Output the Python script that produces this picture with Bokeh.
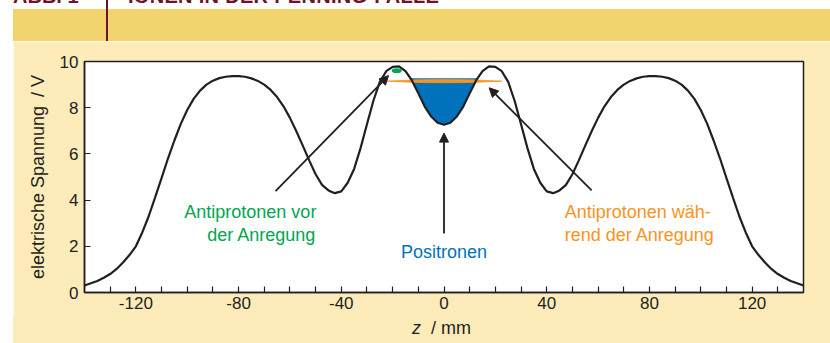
from bokeh.plotting import figure
from bokeh.models import Range1d, FixedTicker, Arrow, NormalHead, Div
from bokeh.layouts import column
from bokeh.core.properties import value
from bokeh.embed import file_html
from bokeh.resources import INLINE

# ---- data ----
z_mm = [-140, -137.5, -135, -132.5, -130, -127.5, -125, -122.5, -120, -117.5, -115, -112.5,
        -110, -107.5, -105, -102.5, -100, -97.5, -95, -92.5, -90, -87.5, -85, -82.5, -80,
        -77.5, -75, -72.5, -70, -67.5, -65, -62.5, -60, -57.5, -55, -52.5, -50, -47.5, -45,
        -42.5, -40, -37.5, -35, -32.5, -30, -27.5, -25, -22.5, -20, -17.5, -15, -12.5, -10,
        -7.5, -5, -2.5, 0,
        2.5, 5, 7.5, 10, 12.5, 15, 17.5, 20, 22.5, 25, 27.5, 30, 32.5, 35, 37.5, 40, 42.5,
        45, 47.5, 50, 52.5, 55, 57.5, 60, 62.5, 65, 67.5, 70, 72.5, 75, 77.5, 80, 82.5, 85,
        87.5, 90, 92.5, 95, 97.5, 100, 102.5, 105, 107.5, 110, 112.5, 115, 117.5, 120,
        122.5, 125, 127.5, 130, 132.5, 135, 137.5, 140]
voltage = [0.30, 0.40, 0.50, 0.64, 0.80, 1.02, 1.30, 1.62, 2.00, 2.60, 3.30, 4.12,
           4.95, 5.80, 6.58, 7.30, 7.90, 8.38, 8.74, 9.00, 9.17, 9.28, 9.34, 9.37, 9.37,
           9.34, 9.27, 9.16, 9.00, 8.77, 8.46, 8.06, 7.56, 6.98, 6.36, 5.72, 5.12, 4.66, 4.42,
           4.30, 4.38, 4.75, 5.35, 6.25, 7.28, 8.30, 9.12, 9.58, 9.77, 9.79, 9.58, 9.18, 8.62,
           8.05, 7.62, 7.35, 7.26,
           7.35, 7.62, 8.05, 8.62, 9.18, 9.58, 9.79, 9.77, 9.58, 9.12, 8.30, 7.28, 6.25, 5.35, 4.75, 4.38, 4.30,
           4.42, 4.66, 5.12, 5.72, 6.36, 6.98, 7.56, 8.06, 8.46, 8.77, 9.00, 9.16, 9.27, 9.34, 9.37, 9.37, 9.34,
           9.28, 9.17, 9.00, 8.74, 8.38, 7.90, 7.30, 6.58, 5.80, 4.95, 4.12, 3.30, 2.60, 2.00,
           1.62, 1.30, 1.02, 0.80, 0.64, 0.50, 0.40, 0.30]

# positron cloud (filled well)
positron_z = [-13.2, -12.5, -10, -7.5, -5, -2.5, 0, 2.5, 5, 7.5, 10, 12.5, 13.2]
positron_bottom = [9.27, 9.18, 8.62, 8.05, 7.62, 7.35, 7.26, 7.35, 7.62, 8.05, 8.62, 9.18, 9.27]
positron_top = [9.27] * len(positron_z)

# antiprotons during excitation (thin orange lens)
excited_z = [-22.0, -10, 0, 10, 22.5, 10, 0, -10]
excited_v = [9.15, 9.21, 9.22, 9.21, 9.15, 9.09, 9.08, 9.09]

# antiprotons before excitation (green blob)
cold_z = [-18.4]
cold_v = [9.60]

# arrows: start (z, V) -> end (z, V)
arrow_z0 = [-65.6, 0.0, 57.5]
arrow_v0 = [4.39, 2.55, 4.42]
arrow_z1 = [-21.6, 0.0, 17.6]
arrow_v1 = [9.39, 6.90, 8.86]

x_ticks = [-120, -80, -40, 0, 40, 80, 120]
x_tick_labels = ["-120", "-80", "-40", "0", "40", "80", "120"]
x_minor = [-130, -110, -100, -90, -70, -60, -50, -30, -20, -10, 10, 20, 30, 50, 60, 70, 90, 100, 110, 130]
y_ticks = [0, 2, 4, 6, 8, 10]

# ---- styling ----
PANEL = "#FEEBBA"
BAND = "#F3D36E"
MAROON = "#6B1230"
INK = "#231F20"
GREEN = "#00A651"
BLUE = "#0072BC"
ORANGE = "#F7941D"
FONT = "Liberation Sans"

band = Div(
    text=(f'<div style="position:relative;width:817px;height:41px;overflow:hidden;background:white;">'
          f'<div style="position:absolute;left:0;top:9px;width:817px;height:32px;background:{BAND};"></div>'
          f'<div style="position:absolute;left:93px;top:0px;width:2px;height:41px;background:{MAROON};"></div>'
          f'<div style="position:absolute;left:0px;top:-14px;font:bold 20px \'{FONT}\';line-height:20px;'
          f'color:{MAROON};white-space:nowrap;">ABB. 1</div>'
          f'<div style="position:absolute;left:115px;top:-14px;font:bold 20px \'{FONT}\';line-height:20px;'
          f'color:{MAROON};white-space:nowrap;letter-spacing:0.3px;">IONEN IN DER PENNING-FALLE</div>'
          '</div>'),
    width=817, height=41, margin=(0, 0, 0, 13),
)

p = figure(width=817, height=276, x_range=Range1d(-140, 140), y_range=Range1d(0, 10),
           output_backend="svg", toolbar_location=None,
           min_border_left=71, min_border_right=27, min_border_top=20, min_border_bottom=25,
           background_fill_color="white", border_fill_color=PANEL,
           outline_line_color=INK, outline_line_width=1.5, margin=(0, 0, 0, 13))
p.grid.visible = False

# axes
xa = p.xaxis[0]
xa.ticker = FixedTicker(ticks=x_ticks, minor_ticks=x_minor)
xa.major_label_overrides = dict(zip(x_ticks, x_tick_labels))
ya = p.yaxis[0]
ya.ticker = FixedTicker(ticks=y_ticks, minor_ticks=[])
for ax in (xa, ya):
    ax.axis_line_color = INK
    ax.axis_line_width = 1.5
    ax.major_tick_in = 6
    ax.major_tick_out = 0
    ax.minor_tick_in = 6
    ax.minor_tick_out = 0
    ax.major_tick_line_color = INK
    ax.minor_tick_line_color = INK
    ax.major_tick_line_width = 1.2
    ax.minor_tick_line_width = 1.2
    ax.major_label_text_font = FONT
    ax.major_label_text_font_size = "17px"
    ax.major_label_text_color = INK
xa.major_label_standoff = 4
ya.major_label_standoff = 6
ya.axis_label = "elektrische Spannung\u2002/ V"
ya.axis_label_text_font = FONT
ya.axis_label_text_font_size = "18px"
ya.axis_label_text_font_style = "normal"
ya.axis_label_text_color = INK
ya.axis_label_standoff = 9

# x-axis title strip (italic z)
xlabel = Div(
    text=(f'<div style="position:relative;width:817px;height:26px;background:{PANEL};">'
          f'<div style="position:absolute;left:399px;top:1px;font:18px \'{FONT}\';line-height:20px;'
          f'color:{INK};white-space:pre;"><i>z</i>  / mm</div></div>'),
    width=817, height=26, margin=(0, 0, 0, 13),
)

# positron fill
p.varea(x=positron_z, y1=positron_bottom, y2=positron_top, fill_color=BLUE)
# orange level
p.patch(excited_z, excited_v, fill_color=ORANGE, line_color=ORANGE, line_width=0.8)
# potential curve
p.line(z_mm, voltage, line_color=INK, line_width=2.2)
# green blob
p.ellipse(x=cold_z, y=cold_v, width=3.9, height=0.21, fill_color=GREEN, line_color=None)

# arrows
for zs, vs, ze, ve in zip(arrow_z0, arrow_v0, arrow_z1, arrow_v1):
    p.add_layout(Arrow(x_start=zs, y_start=vs, x_end=ze, y_end=ve,
                       line_color=INK, line_width=1.8,
                       end=NormalHead(size=9, fill_color=INK, line_color=INK, line_width=1)))

# annotations
p.text(x=[-49.7, -49.7], y=[3.50, 2.51], text=["Antiprotonen vor", "der Anregung"],
       text_color=GREEN, text_font=value(FONT), text_font_size=value("18px"),
       text_align="right", text_baseline="middle")
p.text(x=[0.0], y=[1.74], text=["Positronen"],
       text_color=BLUE, text_font=value(FONT), text_font_size=value("18px"),
       text_align="center", text_baseline="middle")
p.text(x=[47.0, 47.0], y=[3.50, 2.51], text=["Antiprotonen wäh-", "rend der Anregung"],
       text_color=ORANGE, text_font=value(FONT), text_font_size=value("18px"),
       text_align="left", text_baseline="middle")

layout = column(band, p, xlabel, spacing=0)
open("out.html", "w").write(file_html(layout, INLINE))
